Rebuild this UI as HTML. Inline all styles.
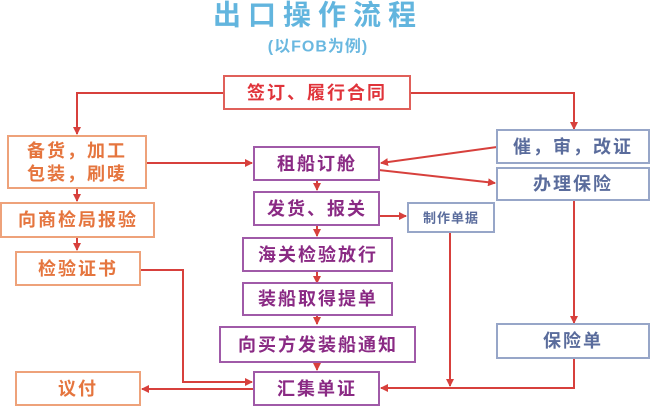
<!DOCTYPE html>
<html><head><meta charset="utf-8"><style>
html,body{margin:0;padding:0;background:#fff;}
svg{display:block}
text{font-family:"Liberation Sans","Noto Sans CJK SC",sans-serif;font-weight:bold;text-anchor:middle;dominant-baseline:central}
</style></head><body>
<svg width="650" height="406" viewBox="0 0 650 406" xmlns="http://www.w3.org/2000/svg">
<defs>
<marker id="a" markerWidth="8" markerHeight="8" refX="7" refY="4" orient="auto" markerUnits="userSpaceOnUse"><path d="M0,0 L8,4 L0,8 z" fill="#d7403c"/></marker>
</defs>
<text x="318" y="15" font-size="28" fill="#62b5de" letter-spacing="7">出口操作流程</text>
<text x="318" y="47" font-size="16" fill="#6ab8e0" letter-spacing="1">(以FOB为例)</text>

<g stroke="#d7403c" stroke-width="2" fill="none">
<path d="M224,93 H77 V134" marker-end="url(#a)"/>
<path d="M410,93 H574 V129" marker-end="url(#a)"/>
<path d="M146,163 H252" marker-end="url(#a)"/>
<path d="M497,147 L381,163" marker-end="url(#a)"/>
<path d="M379,170 L495,183" marker-end="url(#a)"/>
<path d="M77,188 V201" marker-end="url(#a)"/>
<path d="M77,237 V250" marker-end="url(#a)"/>
<path d="M317,180 V190" marker-end="url(#a)"/>
<path d="M317,225 V236" marker-end="url(#a)"/>
<path d="M317,271 V283" marker-end="url(#a)"/>
<path d="M317,315 V324" marker-end="url(#a)"/>
<path d="M317,362 V370" marker-end="url(#a)"/>
<path d="M379,216 H406" marker-end="url(#a)"/>
<path d="M140,270 H183 V382 H252" marker-end="url(#a)"/>
<path d="M450,232 V386" marker-end="url(#a)"/>
<path d="M574,200 V323" marker-end="url(#a)"/>
<path d="M574,358 V388 H381" marker-end="url(#a)"/>
<path d="M254,389 H142" marker-end="url(#a)"/>
</g>

<g fill="#fff" stroke-width="2">
<rect x="224" y="76" width="186" height="33" stroke="#e0605a"/>
<rect x="8" y="136" width="138" height="52" stroke="#eea27a"/>
<rect x="1" y="203" width="153" height="34" stroke="#eea27a"/>
<rect x="16" y="252" width="124" height="33" stroke="#eea27a"/>
<rect x="16" y="372" width="124" height="33" stroke="#eea27a"/>
<rect x="254" y="147" width="125" height="33" stroke="#a05aa8"/>
<rect x="254" y="192" width="125" height="33" stroke="#a05aa8"/>
<rect x="243" y="238" width="149" height="33" stroke="#a05aa8"/>
<rect x="243" y="283" width="149" height="32" stroke="#a05aa8"/>
<rect x="220" y="327" width="195" height="35" stroke="#a05aa8"/>
<rect x="254" y="372" width="125" height="33" stroke="#a05aa8"/>
<rect x="408" y="203" width="86" height="29" stroke="#97a6c8"/>
<rect x="497" y="130" width="152" height="33" stroke="#97a6c8"/>
<rect x="497" y="168" width="152" height="32" stroke="#97a6c8"/>
<rect x="497" y="324" width="152" height="34" stroke="#97a6c8"/>
</g>

<text x="317" y="93" font-size="18" fill="#e0333a" letter-spacing="2">签订、履行合同</text>
<g font-size="18" fill="#e5753e" letter-spacing="2">
<text x="77" y="151">备货，加工</text>
<text x="77" y="174">包装，刷唛</text>
<text x="78" y="220">向商检局报验</text>
<text x="78" y="269">检验证书</text>
<text x="78" y="389">议付</text>
</g>
<g font-size="18" fill="#8a2a84" letter-spacing="2">
<text x="317" y="164">租船订舱</text>
<text x="317" y="209">发货、报关</text>
<text x="318" y="255">海关检验放行</text>
<text x="318" y="299">装船取得提单</text>
<text x="318" y="345">向买方发装船通知</text>
<text x="317" y="389">汇集单证</text>
</g>
<g fill="#5a6c9c" letter-spacing="2">
<text x="451" y="218" font-size="13" letter-spacing="1">制作单据</text>
<text x="573" y="147" font-size="18">催，审，改证</text>
<text x="573" y="184" font-size="18">办理保险</text>
<text x="573" y="341" font-size="18">保险单</text>
</g>
</svg>
</body></html>
